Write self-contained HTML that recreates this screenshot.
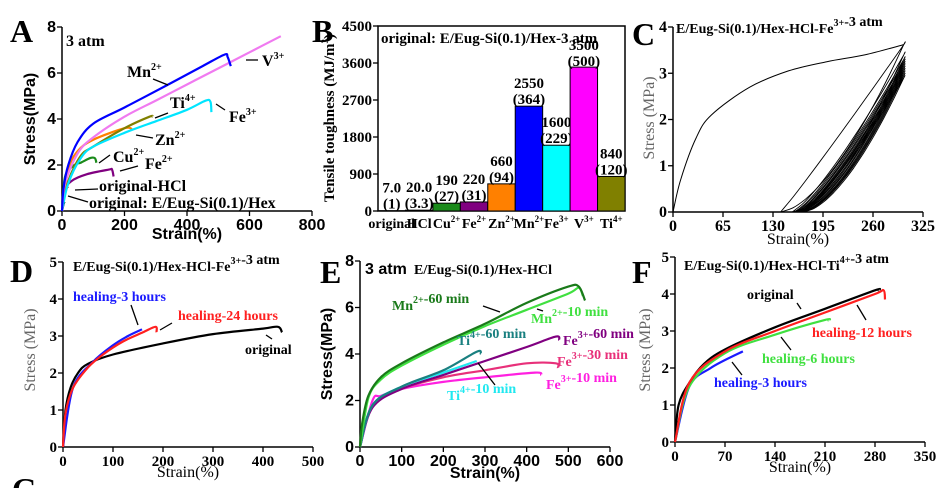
<!DOCTYPE html>
<html><head><meta charset="utf-8"><style>
html,body{margin:0;padding:0;background:#fff;}
svg{display:block;}
.sb{font-family:"Liberation Sans",sans-serif;font-weight:bold;}
.se{font-family:"Liberation Serif",serif;font-weight:bold;}
.sr{font-family:"Liberation Serif",serif;}
</style></head><body>
<svg id="fig" width="944" height="488" viewBox="0 0 944 488" xmlns="http://www.w3.org/2000/svg">
<g class="se" font-size="32">
<text x="10" y="42">A</text>
<text x="312" y="42">B</text>
<text x="632" y="45">C</text>
<text x="10" y="282">D</text>
<text x="320" y="283">E</text>
<text x="632" y="283">F</text>
<text x="12" y="500">G</text>
</g>
</svg>
<script>
// ---------- Panel A data ----------
const aMn=[[0,0],[5,1],[20,2],[50,3],[100,3.8],[200,4.5],[340,5.5],[450,6.3],[520,6.8],[530,6.7],[540,6.3]];
const aV=[[0,0],[10,1.2],[50,2.5],[100,3.2],[200,4.1],[300,4.8],[400,5.5],[500,6.2],[600,6.9],[700,7.6]];
const aFe3=[[0,0],[20,1.2],[60,2.3],[100,2.8],[200,3.4],[300,3.9],[400,4.4],[460,4.8],[475,4.75],[478,4.3]];
const aTi=[[0,0],[20,1.3],[60,2.4],[100,2.8],[200,3.6],[280,4.1],[290,4.1]];
const aZn=[[0,0],[20,1.8],[50,2.6],[100,3.1],[200,3.6],[225,3.55]];
const aCu=[[0,0],[10,1.5],[40,2.0],[60,2.1],[90,2.3],[105,2.3],[110,2.1]];
const aFe2=[[0,0],[10,0.9],[30,1.3],[80,1.6],[150,1.8],[160,1.8],[165,1.5]];
const aHCl=[[0,0],[5,0.6],[15,1.0],[20,1.05]];
const aOrig=[[0,0],[5,0.3],[8,0.4]];
const aXTicks=["0","200","400","600","800"];
const aYTicks=["0","2","4","6","8"];
// ---------- Panel B data ----------
const bCats=["original","HCl","Cu","Fe","Zn","Mn","Fe","V","Ti"];
const bSup=["","","2+","2+","2+","2+","3+","3+","4+"];
const bVals=[7,20,190,220,660,2550,1600,3500,840];
const bValLabels=["7.0","20.0","190","220","660","2550","1600","3500","840"];
const bErrLabels=["(1)","(3.3)","(27)","(31)","(94)","(364)","(229)","(500)","(120)"];
const bYTicks=["0","900","1800","2700","3600","4500"];
// ---------- Panel C data ----------
const cLoad=[[0,0],[10,0.7],[30,1.6],[50,2.1],[100,2.7],[150,3.05],[200,3.25],[250,3.4],[300,3.62]];
const cResid=[140,155,158,160,162,163,165,166,167,168,170];
const cPeak=[3.62,3.4,3.3,3.25,3.2,3.15,3.1,3.05,3.0,2.95,2.9];
const cXTicks=["0","65","130","195","260","325"];
const cYTicks=["0","1","2","3","4"];
// ---------- Panel D data ----------
const dOrig=[[0,0],[5,1.0],[15,1.6],[30,2.0],[50,2.25],[100,2.5],[200,2.8],[300,3.05],[400,3.2],[430,3.25],[438,3.1]];
const dH24=[[0,0],[5,0.9],[20,1.6],[50,2.15],[80,2.5],[120,2.85],[160,3.1],[185,3.25],[187,3.1]];
const dH3=[[0,0],[20,1.6],[60,2.3],[100,2.75],[130,3.0],[158,3.18]];
const dXTicks=["0","100","200","300","400","500"];
const dYTicks=["0","1","2","3","4","5"];
// ---------- Panel E data ----------
const eMn60=[[0,0],[5,1.0],[20,2.2],[50,3.0],[100,3.6],[200,4.5],[300,5.3],[400,6.2],[500,6.9],[525,6.9],[540,6.3]];
const eMn10=[[0,0],[20,2.1],[50,2.9],[100,3.5],[200,4.4],[300,5.2],[400,5.9],[500,6.6],[525,6.85],[535,6.5]];
const eTi60=[[0,0],[30,1.8],[100,2.6],[200,3.3],[280,4.1],[290,4.0]];
const eTi10=[[0,0],[30,1.8],[100,2.6],[200,3.2],[280,3.7]];
const eFe60=[[0,0],[30,1.7],[100,2.5],[200,3.1],[300,3.7],[400,4.3],[470,4.75],[478,4.6]];
const eFe30=[[0,0],[30,1.8],[100,2.5],[200,3.0],[300,3.3],[400,3.6],[470,3.6],[475,3.4]];
const eFe10=[[0,0],[30,2.0],[50,2.2],[100,2.5],[200,2.8],[300,3.0],[420,3.2],[435,3.1]];
const eXTicks=["0","100","200","300","400","500","600"];
const eYTicks=["0","2","4","6","8"];
// ---------- Panel F data ----------
const fOrig=[[0,0],[5,1.0],[20,1.6],[40,2.1],[70,2.5],[140,3.1],[210,3.6],[280,4.1],[285,4.1]];
const fH12=[[0,0],[20,1.6],[70,2.45],[140,3.0],[210,3.5],[280,4.0],[292,4.1],[294,3.85]];
const fH6=[[0,0],[20,1.5],[70,2.4],[140,2.9],[210,3.3],[215,3.28]];
const fH3=[[0,0],[20,1.5],[50,2.0],[95,2.45]];
const fXTicks=["0","70","140","210","280","350"];
const fYTicks=["0","1","2","3","4","5"];

const NS="http://www.w3.org/2000/svg";
const svg=document.getElementById('fig');
function E(tag,parent){const e=document.createElementNS(NS,tag);(parent||svg).appendChild(e);return e;}

function axes(p,name){
  const g=E('g');
  
  
  const sx=v=>p.x0+(v-p.xmin)/(p.xmax-p.xmin)*(p.x1-p.x0);
  const sy=v=>p.y0-(v/p.ymax)*(p.y0-p.y1);
  const ax=E('path',g);
  let d=`M${p.x0},${p.y1} L${p.x0},${p.y0} L${p.x1},${p.y0}`;
  if(p.box) d+=` L${p.x1},${p.y1} Z`;
  ax.setAttribute('d',d);ax.setAttribute('fill','none');ax.setAttribute('stroke','#000');ax.setAttribute('stroke-width','1.5');
  
  
  if(p.xt){p.xt.forEach((t,i)=>{
    const v=p.xmin+i*(p.xmax-p.xmin)/(p.xt.length-1);const x=sx(v);
    const l=E('line',g);l.setAttribute('x1',x);l.setAttribute('x2',x);l.setAttribute('y1',p.y0);l.setAttribute('y2',p.y0+5);l.setAttribute('stroke','#000');l.setAttribute('stroke-width','1.3');
    
    
    const tx=E('text',g);tx.textContent=t;tx.setAttribute('x',x);tx.setAttribute('y',p.y0+19);tx.setAttribute('text-anchor','middle');tx.setAttribute('class',p.tf);tx.setAttribute('font-size',p.fs);
    
    
  });}
  p.yt.forEach((t,i)=>{
    const v=i*p.ymax/(p.yt.length-1);const y=sy(v);
    const l=E('line',g);l.setAttribute('x1',p.x0-5);l.setAttribute('x2',p.x0);l.setAttribute('y1',y);l.setAttribute('y2',y);l.setAttribute('stroke','#000');l.setAttribute('stroke-width','1.3');
    
    
    const tx=E('text',g);tx.textContent=t;tx.setAttribute('x',p.x0-6);tx.setAttribute('y',y+5);tx.setAttribute('text-anchor','end');tx.setAttribute('class',p.tf);tx.setAttribute('font-size',p.fs);
    
    
  });
  return {sx,sy,g};
}
function smooth(pts){
  let d=`M${pts[0][0].toFixed(1)},${pts[0][1].toFixed(1)}`;
  for(let i=0;i<pts.length-1;i++){
    const p0=pts[Math.max(0,i-1)],p1=pts[i],p2=pts[i+1],p3=pts[Math.min(pts.length-1,i+2)];
    const c1=[p1[0]+(p2[0]-p0[0])/6,p1[1]+(p2[1]-p0[1])/6],c2=[p2[0]-(p3[0]-p1[0])/6,p2[1]-(p3[1]-p1[1])/6];
    d+=` C${c1[0].toFixed(1)},${c1[1].toFixed(1)} ${c2[0].toFixed(1)},${c2[1].toFixed(1)} ${p2[0].toFixed(1)},${p2[1].toFixed(1)}`;
  }
  return d;
}
function curve(s,data,color,w,name){
  const pth=E('path');
  pth.setAttribute('d',smooth(data.map(q=>[s.sx(q[0]),s.sy(q[1])])));
  pth.setAttribute('fill','none');pth.setAttribute('stroke',color);pth.setAttribute('stroke-width',w);pth.setAttribute('stroke-linejoin','round');
  
  
}
function txt(x,y,str,cls,fs,fill,name,opts){
  const t=E('text');t.setAttribute('x',x);t.setAttribute('y',y);t.setAttribute('class',cls);t.setAttribute('font-size',fs);t.setAttribute('fill',fill||'#000');
  if(opts&&opts.rot){t.setAttribute('transform',`rotate(-90 ${x} ${y})`);t.setAttribute('text-anchor','middle');}
  if(opts&&opts.anchor)t.setAttribute('text-anchor',opts.anchor);
  t.innerHTML=str;
  
  
  return t;
}
function lead(x1,y1,x2,y2,name){
  const l=E('line');l.setAttribute('x1',x1);l.setAttribute('y1',y1);l.setAttribute('x2',x2);l.setAttribute('y2',y2);l.setAttribute('stroke','#000');l.setAttribute('stroke-width','1.3');
  
  
}
const sup=s=>`<tspan dy="-7" font-size="10">${s}</tspan><tspan dy="7"></tspan>`;

// ===== Panel A =====
const A=axes({x0:62,x1:312,y0:211,y1:27,xmin:0,xmax:800,ymax:8,xt:aXTicks,yt:aYTicks,tf:'sb',fs:16},'panel-a');
curve(A,aOrig,'#000',2.2,'a-original-curve');
curve(A,aHCl,'#e00000',2.2,'a-hcl-curve');
curve(A,aFe2,'#800080',2.2,'a-fe2-curve');
curve(A,aCu,'#1a8a1a',2.2,'a-cu-curve');
curve(A,aZn,'#ff8000',2.2,'a-zn-curve');
curve(A,aTi,'#808000',2.2,'a-ti-curve');
curve(A,aFe3,'#00e5ff',2.2,'a-fe3-curve');
curve(A,aV,'#f07af0',2.2,'a-v-curve');
curve(A,aMn,'#0000ff',2.2,'a-mn-curve');
txt(66,46,'3 atm','se',16,'#000','a-condition-label');
txt(127,77,'Mn'+sup('2+'),'se',16,'#000','a-label-mn');lead(153,79,168,85,'a-leader-mn');
txt(262,66,'V'+sup('3+'),'se',16,'#000','a-label-v');lead(246,60,258,60,'a-leader-v');
txt(170,108,'Ti'+sup('4+'),'se',16,'#000','a-label-ti');lead(155,118,168,113,'a-leader-ti');
txt(229,122,'Fe'+sup('3+'),'se',16,'#000','a-label-fe3');lead(216,104,225,110,'a-leader-fe3');
txt(155,145,'Zn'+sup('2+'),'se',16,'#000','a-label-zn');lead(136,135,153,138,'a-leader-zn');
txt(113,162,'Cu'+sup('2+'),'se',16,'#000','a-label-cu');lead(99,163,110,155,'a-leader-cu');
txt(145,169,'Fe'+sup('2+'),'se',16,'#000','a-label-fe2');lead(120,171,138,166,'a-leader-fe2');
txt(99,191,'original-HCl','se',16,'#000','a-label-hcl');lead(75,190,98,189,'a-leader-hcl');
txt(89,208,'original: E/Eug-Si(0.1)/Hex','se',16,'#000','a-label-original');lead(68,196,88,202,'a-leader-original');
txt(35,119,'Stress(MPa)','sb',16,'#000','a-y-axis-title',{rot:1});
txt(187,239,'Strain(%)','sb',16,'#000','a-x-axis-title',{anchor:'middle'});

// ===== Panel B =====
const Bp={x0:378,x1:625,y0:211,y1:26,ymax:4500,yt:bYTicks,tf:'se',fs:15,box:true};
const B=axes(Bp,'panel-b');
const bColors=['#e00000','#e00000','#1a8a1a','#800080','#ff8000','#0000ff','#00ffff','#ff00ff','#808000'];
const bw=(Bp.x1-Bp.x0)/bCats.length;
bVals.forEach((v,i)=>{
  const r=E('rect');const x=Bp.x0+i*bw;const y=B.sy(v);
  r.setAttribute('x',x);r.setAttribute('y',y);r.setAttribute('width',bw);r.setAttribute('height',Bp.y0-y);r.setAttribute('fill',bColors[i]);r.setAttribute('stroke','#000');r.setAttribute('stroke-width','1');
  
  
  const cx=x+bw/2;
  const ly=Math.max(y,68);
  txt(cx,ly-18,bValLabels[i],'se',15,'#000','b-value-label',{anchor:'middle'});
  txt(cx,ly-2,bErrLabels[i],'se',15,'#000','b-error-label',{anchor:'middle'});
  txt(cx,228,bCats[i]+(bSup[i]?`<tspan dy="-6" font-size="9">${bSup[i]}</tspan>`:''),'se',14,'#000','b-category-label',{anchor:'middle'});
});
txt(381,43,'original: E/Eug-Si(0.1)/Hex-3 atm','se',15,'#000','b-title');
txt(334,118,'Tensile toughness (MJ/m<tspan dy="-6" font-size="9">3</tspan><tspan dy="6">)</tspan>','se',15,'#000','b-y-axis-title',{rot:1});

// ===== Panel C =====
const C=axes({x0:673,x1:923,y0:212,y1:27,xmin:0,xmax:325,ymax:4,xt:cXTicks,yt:cYTicks,tf:'se',fs:16},'panel-c');
curve(C,cLoad,'#000',1,'c-first-loading-curve');
cResid.forEach((r,i)=>{
  const pk=cPeak[i];const pts=[];
  for(let k=0;k<=10;k++){const t=k/10;pts.push([r+(300-r)*t,pk*Math.pow(t,1.6)]);}
  for(let k=10;k>=0;k--){const t=k/10;pts.push([r+(300-r)*t,pk*Math.pow(t,i===0?1.05:1.25)]);}
  curve(C,pts,'#000',0.9,'c-cycle-loop-'+i);
});
txt(676,33,'E/Eug-Si(0.1)/Hex-HCl-Fe'+sup('3+')+'-3 atm','se',14,'#000','c-title');
txt(654,118,'Stress (MPa)','sr',16,'#666','c-y-axis-title',{rot:1});
txt(798,244,'Strain(%)','sr',16,'#000','c-x-axis-title',{anchor:'middle'});

// ===== Panel D =====
const D=axes({x0:63,x1:313,y0:447,y1:262,xmin:0,xmax:500,ymax:5,xt:dXTicks,yt:dYTicks,tf:'se',fs:15},'panel-d');
curve(D,dOrig,'#000',2.2,'d-original-curve');
curve(D,dH3,'#1a1aff',2.2,'d-healing-3h-curve');
curve(D,dH24,'#ff2020',2.2,'d-healing-24h-curve');
txt(73,271,'E/Eug-Si(0.1)/Hex-HCl-Fe'+sup('3+')+'-3 atm','se',14,'#000','d-title');
txt(73,301,'healing-3 hours','se',14,'#1a1aff','d-label-healing-3h');lead(131,305,138,325,'d-leader-3h');
txt(178,320,'healing-24 hours','se',14,'#ff2020','d-label-healing-24h');lead(160,330,172,323,'d-leader-24h');
txt(245,354,'original','se',14,'#000','d-label-original');lead(266,335,272,339,'d-leader-original');
txt(35,350,'Stress (MPa)','sr',16,'#666','d-y-axis-title',{rot:1});
txt(188,477,'Strain(%)','sr',16,'#000','d-x-axis-title',{anchor:'middle'});

// ===== Panel E =====
const Ep=axes({x0:360,x1:610,y0:447,y1:261,xmin:0,xmax:600,ymax:8,xt:eXTicks,yt:eYTicks,tf:'sb',fs:16},'panel-e');
curve(Ep,eFe10,'#ff20e0',2.2,'e-fe3-10min-curve');
curve(Ep,eFe30,'#e8307a',2.2,'e-fe3-30min-curve');
curve(Ep,eFe60,'#800080',2.2,'e-fe3-60min-curve');
curve(Ep,eTi10,'#20e8f0',2.2,'e-ti4-10min-curve');
curve(Ep,eTi60,'#1a8080',2.2,'e-ti4-60min-curve');
curve(Ep,eMn10,'#40e040',2.2,'e-mn2-10min-curve');
curve(Ep,eMn60,'#1a7a1a',2.2,'e-mn2-60min-curve');
txt(365,274,'3 atm','sb',16,'#000','e-condition-label');
txt(414,274,'E/Eug-Si(0.1)/Hex-HCl','se',14,'#000','e-title');
txt(392,310,'Mn'+sup('2+')+'-60 min','se',14,'#1a7a1a','e-label-mn60');lead(483,306,500,312,'e-leader-mn60');
txt(531,323,'Mn'+sup('2+')+'-10 min','se',14,'#40e040','e-label-mn10');lead(537,309,543,311,'e-leader-mn10');
txt(457,345,'Ti'+sup('4+')+'-60 min','se',14,'#1a8080','e-label-ti60');
txt(563,345,'Fe'+sup('3+')+'-60 min','se',14,'#800080','e-label-fe60');
txt(557,366,'Fe'+sup('3+')+'-30 min','se',14,'#e8307a','e-label-fe30');
txt(546,389,'Fe'+sup('3+')+'-10 min','se',14,'#ff20e0','e-label-fe10');
txt(447,400,'Ti'+sup('4+')+'-10 min','se',14,'#20e8f0','e-label-ti10');lead(478,363,495,385,'e-leader-ti10');
txt(332,354,'Stress(MPa)','sb',16,'#000','e-y-axis-title',{rot:1});
txt(485,478,'Strain(%)','sb',16,'#000','e-x-axis-title',{anchor:'middle'});

// ===== Panel F =====
const F=axes({x0:675,x1:925,y0:442,y1:257,xmin:0,xmax:350,ymax:5,xt:fXTicks,yt:fYTicks,tf:'se',fs:15},'panel-f');
curve(F,fH3,'#1a1aff',2.2,'f-healing-3h-curve');
curve(F,fH6,'#40e040',2.2,'f-healing-6h-curve');
curve(F,fOrig,'#000',2.2,'f-original-curve');
curve(F,fH12,'#ff2020',2.2,'f-healing-12h-curve');
txt(684,270,'E/Eug-Si(0.1)/Hex-HCl-Ti'+sup('4+')+'-3 atm','se',14,'#000','f-title');
txt(747,299,'original','se',14,'#000','f-label-original');lead(797,303,801,309,'f-leader-original');
txt(812,337,'healing-12 hours','se',14,'#ff2020','f-label-healing-12h');lead(857,305,866,320,'f-leader-12h');
txt(762,363,'healing-6 hours','se',14,'#40e040','f-label-healing-6h');lead(781,337,791,350,'f-leader-6h');
txt(714,387,'healing-3 hours','se',14,'#1a1aff','f-label-healing-3h');lead(732,362,742,375,'f-leader-3h');
txt(650,350,'Stress (MPa)','sr',16,'#666','f-y-axis-title',{rot:1});
txt(800,472,'Strain(%)','sr',16,'#000','f-x-axis-title',{anchor:'middle'});
</script>
</body></html>
